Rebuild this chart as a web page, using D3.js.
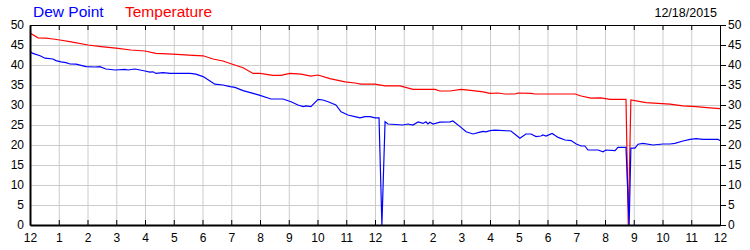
<!DOCTYPE html>
<html>
<head>
<meta charset="utf-8">
<script src="https://cdn.jsdelivr.net/npm/d3@7"></script>
<style>
body{margin:0;background:#fff;}
text{font-family:Arial,"Liberation Sans",sans-serif;}
</style>
</head>
<body>
<div id="chart"></div>
<script>
// hours since midnight (0-24) and readings in deg F
var tempData = [
	[0,48],[0.28,46.8],[0.56,46.7],[0.8,46.5],[1.04,46.25],[1.43,45.8],[2.02,45],[2.47,44.6],
	[2.99,44.2],[3.51,43.75],[4,43.5],[4.38,42.9],[4.97,42.7],[5.67,42.4],[6.02,42.3],[6.37,41.5],
	[6.71,41],[6.99,40.3],[7.41,39.3],[7.76,37.9],[8,37.9],[8.45,37.4],[8.73,37.4],[9.04,37.9],
	[9.43,37.7],[9.77,37.2],[10.02,37.5],[10.43,36.6],[10.96,35.8],[11.3,35.5],[11.51,35.2],[12,35.2],
	[12.35,34.8],[12.87,34.8],[13.32,33.9],[14.09,33.9],[14.26,33.5],[14.61,33.5],[14.99,33.9],[15.41,33.6],
	[15.76,33.3],[16,32.9],[16.28,33],[16.52,32.75],[16.87,32.75],[16.97,33],[17.43,32.9],[17.57,32.75],
	[18.96,32.75],[19.17,32.25],[19.51,31.7],[19.86,31.8],[20.17,31.4],[20.73,31.4],[20.81,0],[20.9,31.25],
	[21.43,30.6],[21.84,30.4],[22.26,30.2],[22.71,29.8],[23.17,29.6],[23.65,29.3],[24,29.1]
];

var dewData = [
	[0,43.4],[0.1,42.9],[0.35,42.3],[0.52,41.7],[0.8,41.5],[0.9,41.1],[1.08,40.8],[1.25,40.6],
	[1.39,40.25],[1.6,40.2],[1.95,39.6],[2.26,39.5],[2.43,39.6],[2.64,39],[2.96,38.75],[3.3,38.9],
	[3.41,38.75],[3.65,39],[4,38.5],[4.17,38.2],[4.28,38.3],[4.38,37.9],[4.63,38.1],[4.87,37.9],
	[5.57,37.9],[5.77,37.7],[6.02,37.1],[6.26,36],[6.43,35.2],[6.71,35],[6.96,34.6],[7.13,34.4],
	[7.41,33.6],[7.76,32.9],[8,32.4],[8.38,31.5],[8.8,31.5],[9.08,30.8],[9.32,30],[9.5,29.6],
	[9.6,29.8],[9.77,29.6],[10.02,31.4],[10.19,31.25],[10.37,30.8],[10.64,30],[10.82,28.3],[11.06,27.5],
	[11.3,27.1],[11.48,26.8],[11.65,27.1],[11.83,27.1],[12,26.8],[12.14,26.8],[12.24,0],[12.35,25.8],
	[12.45,25.25],[12.97,25],[13.15,25.25],[13.32,25],[13.5,25.75],[13.67,25.4],[13.77,25.8],[13.84,25.25],
	[13.91,25.7],[14.02,25.25],[14.26,25.7],[14.61,25.8],[14.71,26],[14.96,24.6],[15.17,23.3],[15.41,22.75],
	[15.65,23.2],[15.76,23.4],[15.86,23.3],[16,23.6],[16.17,23.7],[16.73,23.5],[17.04,21.7],[17.25,22.75],
	[17.43,22.75],[17.6,22.1],[17.77,22.25],[17.84,22.5],[17.95,22.25],[18.16,22.9],[18.37,21.9],[18.61,21.25],
	[18.82,21.1],[19,20.25],[19.17,19.75],[19.3,19.75],[19.41,18.75],[19.76,18.75],[19.93,18.3],[20.03,18.75],
	[20.35,18.6],[20.45,19.4],[20.73,19.4],[20.84,0],[20.9,19.2],[21.04,19.2],[21.15,20.2],[21.32,20.4],
	[21.67,20],[22.02,20.25],[22.26,20.25],[22.43,20.4],[22.71,21],[22.96,21.4],[23.17,21.6],[23.41,21.4],
	[23.93,21.4],[24,21.1]
];

var hourTicks = d3.range(0,25);
var yTicks = d3.range(0,51,5);
var dateLabel = "12/18/2015";

var margin = {top:25, right:30, bottom:25, left:30};
var w = 750-margin.left-margin.right;
var h = 250-margin.top-margin.bottom;

var x = d3.scaleLinear().domain([0,24]).range([0,w]);
var y = d3.scaleLinear().domain([0,50]).range([h,0]);

var svg = d3.select("#chart").append("svg")
	.attr("width",750)
	.attr("height",250);

var g = svg.append("g")
	.attr("transform","translate("+margin.left+","+margin.top+")");

// grid
g.append("g")
	.attr("class","grid")
	.call(d3.axisBottom(x).tickValues(hourTicks).tickSize(h).tickFormat(""))
	.call(function(s){s.select(".domain").remove()})
	.selectAll("line").attr("stroke","#cccccc");

g.append("g")
	.attr("class","grid")
	.call(d3.axisLeft(y).tickValues(yTicks).tickSize(-w).tickFormat(""))
	.call(function(s){s.select(".domain").remove()})
	.selectAll("line").attr("stroke","#cccccc");

// lines
var line = d3.line()
	.x(function(d){return x(d[0])})
	.y(function(d){return y(d[1])});

g.append("path")
	.datum(tempData)
	.attr("fill","none")
	.attr("stroke","#ff0000")
	.attr("stroke-width",1.2)
	.attr("d",line);

g.append("path")
	.datum(dewData)
	.attr("fill","none")
	.attr("stroke","#0000ff")
	.attr("stroke-width",1.2)
	.attr("d",line);

// axes
var topAxis = g.append("g")
	.call(d3.axisTop(x).tickValues(hourTicks).tickSize(-5).tickSizeOuter(0).tickFormat(""));
topAxis.selectAll("line").attr("stroke","#000");
topAxis.select(".domain").attr("stroke","#000");

var rightAxis = g.append("g")
	.attr("transform","translate("+w+",0)")
	.call(d3.axisRight(y).tickValues(yTicks).tickSize(6).tickSizeOuter(0).tickPadding(2));
rightAxis.selectAll("text").style("font-size","12px").attr("fill","#000");

var bottomAxis = g.append("g")
	.attr("transform","translate(0,"+h+")")
	.call(d3.axisBottom(x).tickValues(hourTicks).tickSize(-5).tickSizeOuter(0).tickPadding(8)
		.tickFormat(function(d){return d%12===0 ? 12 : d%12}));
bottomAxis.select(".domain").attr("stroke-width",2);
bottomAxis.selectAll("text").style("font-size","12px").attr("fill","#000");

var leftAxis = g.append("g")
	.call(d3.axisLeft(y).tickValues(yTicks).tickSize(0).tickSizeOuter(0).tickPadding(6));
leftAxis.select(".domain").attr("stroke-width",2);
leftAxis.selectAll("text").style("font-size","12px").attr("fill","#000");

// legend + date
svg.append("text")
	.attr("x",33).attr("y",17)
	.style("font-size","15.5px")
	.attr("fill","#0000ff")
	.text("Dew Point");

svg.append("text")
	.attr("x",125).attr("y",17)
	.style("font-size","15.5px")
	.attr("fill","#ff0000")
	.text("Temperature");

svg.append("text")
	.attr("x",717).attr("y",17)
	.attr("text-anchor","end")
	.style("font-size","12.5px")
	.attr("fill","#000")
	.text(dateLabel);
</script>
</body>
</html>
